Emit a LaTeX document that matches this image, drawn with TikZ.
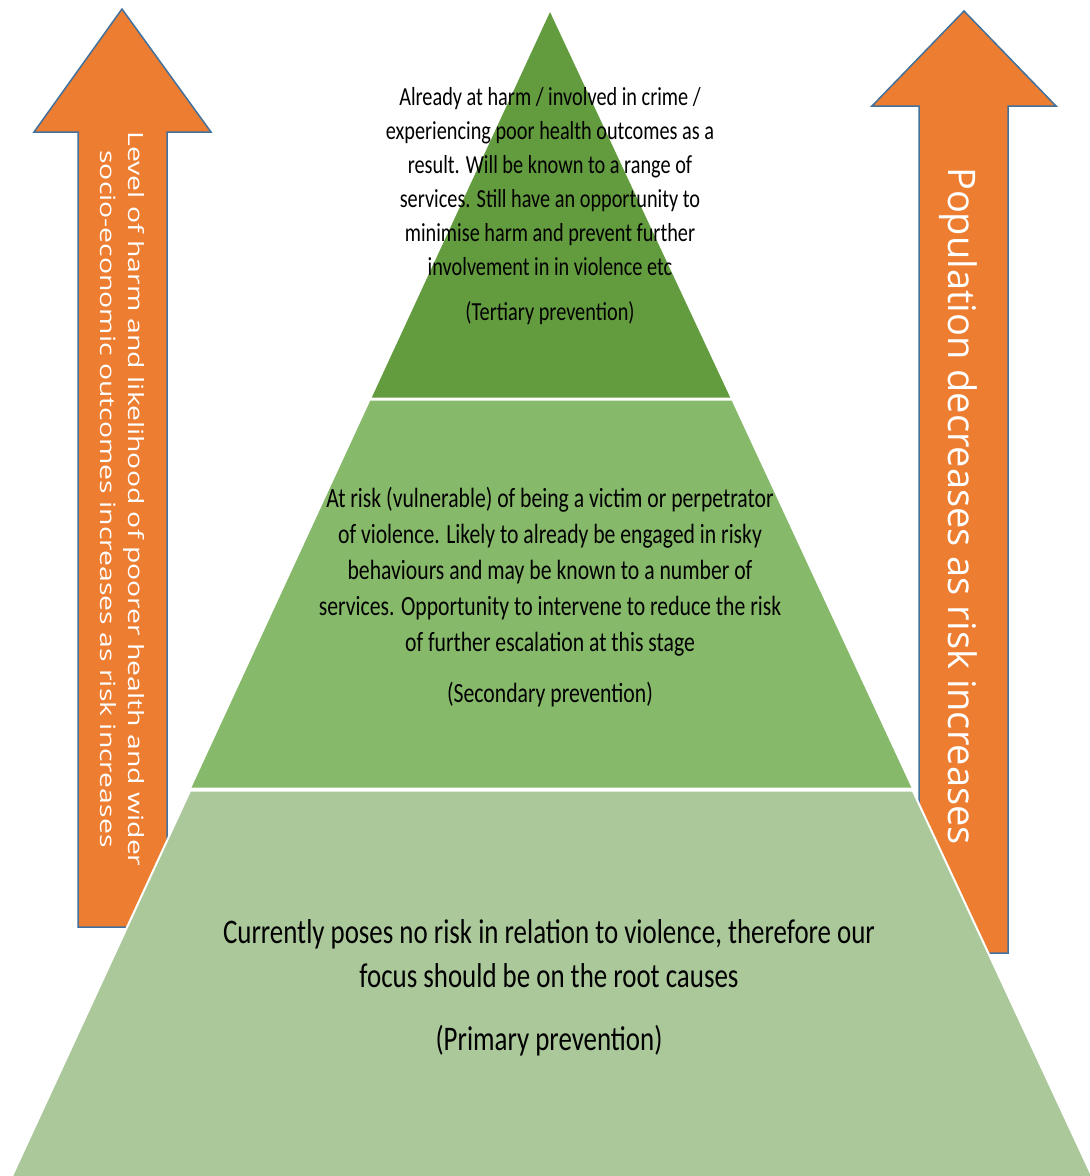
\documentclass[tikz,border=0pt]{standalone}
\usepackage{fontspec}
\setmainfont{Carlito}
\newfontfamily\pyrfont[FakeStretch=0.78]{Carlito}
\newfontfamily\arrfont{Open Sans}
\newfontfamily\arrwide[FakeStretch=1.35]{Open Sans}
\definecolor{arrorange}{HTML}{ED7D31}
\definecolor{arrblue}{HTML}{41719C}
\definecolor{greendark}{HTML}{639B3F}
\definecolor{greenmid}{HTML}{86B96A}
\definecolor{greenlight}{HTML}{ABC89B}
\tikzset{
  arrowshape/.style={fill=arrorange, draw=arrblue, line width=1.5pt, line join=miter},
  pyrtext/.style={align=center, inner sep=0pt, text=black},
  arrtext/.style={align=center, inner sep=0pt, text=white, rotate=-90},
}
\begin{document}
\begin{tikzpicture}[x=1pt,y=-1pt]
\useasboundingbox (0,0) rectangle (1090,1176);
\fill[white] (0,0) rectangle (1090,1176);
% arrows
\draw[arrowshape] (122,9) -- (211,132) -- (167,132) -- (167,927) -- (78,927) -- (78,132) -- (34,132) -- cycle;
\draw[arrowshape] (964,11) -- (1056,106) -- (1008,106) -- (1008,953) -- (919,953) -- (919,106) -- (872,106) -- cycle;
% pyramid layers
\fill[greendark] (550,12) -- (730.2,397.5) -- (371.8,397.5) -- cycle;
\fill[greenmid] (370.4,400.5) -- (731.6,400.5) -- (911.3,787.5) -- (191.6,787.5) -- cycle;
\filldraw[fill=greenlight, draw=white, line width=2pt] (190.2,790.5) -- (912.7,790.5) -- (1093.9,1180) -- (10.2,1180) -- cycle;
% texts
\node[pyrtext, font=\pyrfont\fontsize{26}{34}\selectfont] (tert) at (550,206)
  {Already at harm / involved in crime /\\ experiencing poor health outcomes as a\\ result. Will be known to a range of\\ services. Still have an opportunity to\\ minimise harm and prevent further\\ involvement in in violence etc\\[11pt] (Tertiary prevention)};
\node[pyrtext, font=\pyrfont\fontsize{27.8}{36}\selectfont] (sec) at (550,597)
  {At risk (vulnerable) of being a victim or perpetrator\\ of violence. Likely to already be engaged in risky\\ behaviours and may be known to a number of\\ services. Opportunity to intervene to reduce the risk\\ of further escalation at this stage\\[15pt] (Secondary prevention)};
\node[pyrtext, font=\pyrfont\fontsize{34.5}{44}\selectfont] (prim) at (549,988)
  {Currently poses no risk in relation to violence, therefore our\\ focus should be on the root causes\\[19pt] (Primary prevention)};
\node[arrtext, font=\arrfont\fontsize{38}{46}\selectfont] (rtext) at (958,506)
  {Population decreases as risk increases};
\node[arrtext, font=\arrwide\fontsize{21}{28}\selectfont] (ltext) at (122.5,499)
  {Level of harm and likelihood of poorer health and wider\\ socio-economic outcomes increases as risk increases};
\end{tikzpicture}
\end{document}
